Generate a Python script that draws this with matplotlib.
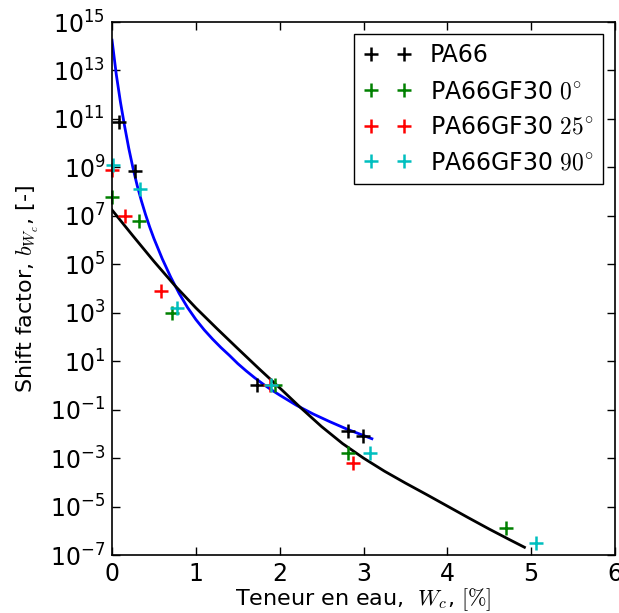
import numpy as np
import matplotlib
matplotlib.use('Agg')
import matplotlib.pyplot as plt

plt.rcParams['mathtext.fontset'] = 'cm'
plt.rcParams['axes.unicode_minus'] = False

# measured points: water content W_c [%] and log10 of shift factor
pa66_w = [0.08, 0.27, 1.73, 2.81, 2.99]
pa66_logb = [10.87, 8.84, 0.0, -1.9, -2.1]

gf0_w = [0.0, 0.32, 0.71, 1.95, 2.81, 4.70]
gf0_logb = [7.77, 6.78, 2.98, 0.0, -2.77, -5.87]

gf25_w = [0.0, 0.15, 0.58, 1.89, 2.87]
gf25_logb = [8.88, 6.98, 3.9, 0.0, -3.2]

gf90_w = [0.01, 0.33, 0.77, 1.90, 3.08, 5.06]
gf90_logb = [9.1, 8.1, 3.2, 0.0, -2.77, -6.5]

# fitted curves
fit_pa66_w = [0.0, 0.05, 0.1, 0.15, 0.2, 0.25, 0.3, 0.35, 0.4, 0.45, 0.5,
              0.6, 0.7, 0.8, 0.9, 1.0, 1.1, 1.2, 1.3, 1.4, 1.5, 1.6, 1.7,
              1.8, 1.9, 2.0, 2.2, 2.4, 2.6, 2.8, 3.1]
fit_pa66_logb = [14.25, 12.85, 11.70, 10.70, 9.78, 8.97, 8.25, 7.62, 7.05,
                 6.53, 6.06, 5.22, 4.47, 3.80, 3.22, 2.72, 2.29, 1.91, 1.56,
                 1.24, 0.90, 0.60, 0.32, 0.06, -0.18, -0.40, -0.82, -1.18,
                 -1.50, -1.80, -2.20]

fit_gf_w = [0.0, 0.25, 0.5, 0.75, 1.0, 1.25, 1.5, 1.75, 2.0, 2.25, 2.5, 2.75,
            3.0, 3.25, 3.5, 3.75, 4.0, 4.25, 4.5, 4.75, 4.92]
fit_gf_logb = [7.24, 6.17, 5.12, 4.12, 3.20, 2.35, 1.52, 0.70, -0.10, -0.92,
               -1.70, -2.40, -3.00, -3.54, -4.03, -4.50, -4.98, -5.46, -5.93,
               -6.38, -6.68]

series = [
    (pa66_w, pa66_logb, 'k', 'PA66'),
    (gf0_w, gf0_logb, 'g', r'PA66GF30 $0^{\circ}$'),
    (gf25_w, gf25_logb, 'r', r'PA66GF30 $25^{\circ}$'),
    (gf90_w, gf90_logb, 'c', r'PA66GF30 $90^{\circ}$'),
]

fig = plt.figure(figsize=(6.19, 6.13), dpi=100)
ax = fig.add_axes([0.181, 0.0946, 0.8125, 0.8695])

ax.plot(fit_pa66_w, 10.0 ** np.array(fit_pa66_logb), 'b-', lw=2)
ax.plot(fit_gf_w, 10.0 ** np.array(fit_gf_logb), 'k-', lw=2)

for w, lb, c, lab in series:
    ax.plot(w, 10.0 ** np.array(lb), '+', color=c, ms=10, mew=1.8,
            label=lab, clip_on=False)

ax.set_yscale('log')
ax.set_xlim(0, 6)
ax.set_ylim(1e-7, 1e15)
ax.set_yticks([10.0 ** k for k in range(-7, 16, 2)])
ax.yaxis.set_minor_locator(matplotlib.ticker.NullLocator())
ax.set_xticks(range(0, 7))

ax.tick_params(direction='in', top=True, right=True, length=6, width=1,
               labelsize=17, pad=5)
for s in ax.spines.values():
    s.set_linewidth(1.2)

ax.set_xlabel(r'Teneur en eau,  $W_c$, $[\%]$', fontsize=16, labelpad=0)
ax.set_ylabel(r'Shift factor, $b_{W_c}$, [-]', fontsize=16, labelpad=6)

leg = ax.legend(loc='upper right', numpoints=2, fontsize=17, fancybox=False,
                framealpha=1, edgecolor='k', handlelength=2.0,
                borderaxespad=0.5)
leg.get_frame().set_linewidth(1.0)

fig.savefig('out.png', dpi=100)
